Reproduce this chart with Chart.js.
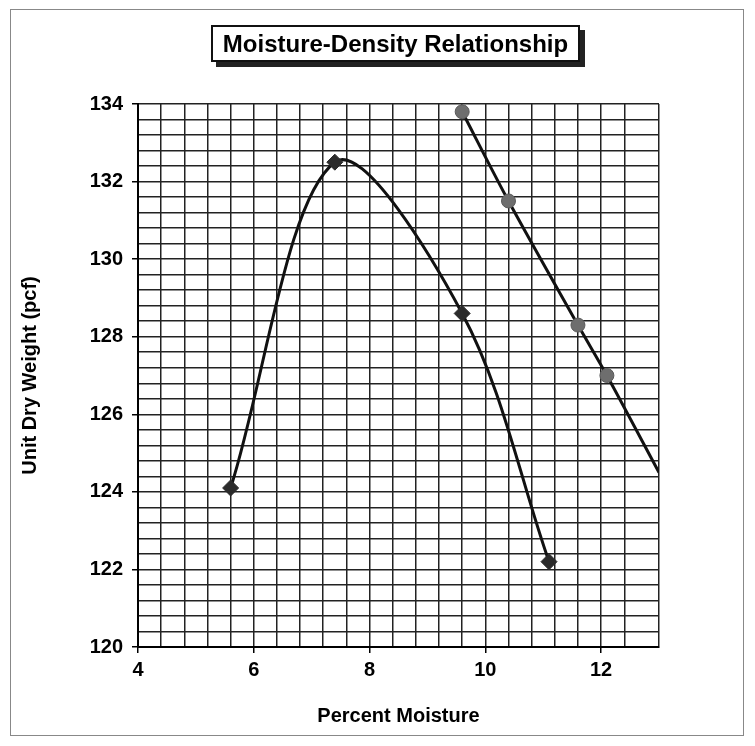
<!DOCTYPE html>
<html>
<head>
<meta charset="utf-8">
<script src="https://cdn.jsdelivr.net/npm/chart.js@4"></script>
<style>
  html, body { margin: 0; padding: 0; background: #fff; }
  #wrap { position: relative; width: 755px; height: 746px; }
  #frame { position: absolute; left: 10px; top: 9px; width: 734px; height: 727px; border: 1px solid #888; box-sizing: border-box; }
  #title {
    position: absolute; left: 211px; top: 25px; width: 369px; height: 37px;
    box-sizing: border-box; border: 2px solid #111; background: #fff;
    box-shadow: 5px 5px 0 #222;
    font: bold 24px "Liberation Sans", Arial, sans-serif; color: #000;
    text-align: center; line-height: 33px;
  }
  canvas { position: absolute; left: 0; top: 0; }
</style>
</head>
<body>
<div id="wrap">
  <div id="frame"></div>
  <canvas id="chart" width="755" height="746"></canvas>
  <div id="title">Moisture-Density Relationship</div>
</div>
<script>
// field test points (diamonds)
const moistureTest = [5.6, 7.4, 9.6, 11.1];
const densityTest = [124.1, 132.5, 128.6, 122.2];

// zero air voids points (circles); last one only carries the line to the edge
const moistureZav = [9.6, 10.4, 11.6, 12.1, 13.0];
const densityZav = [133.8, 131.5, 128.3, 127.0, 124.5];

const xMin = 4, xMax = 13;
const yMin = 120, yMax = 134;
const gridStep = 0.4;

function toPoints(xs, ys) {
    return xs.map((x, i) => ({ x: x, y: ys[i] }));
}

function isMajor(v) {
    const r = Math.round(v);
    return Math.abs(v - r) < 1e-6 && r % 2 === 0;
}

const font = { family: '"Liberation Sans", Arial, sans-serif' };

new Chart(document.getElementById('chart').getContext('2d'), {
    type: 'scatter',
    data: {
        datasets: [
            {
                label: 'Test',
                data: toPoints(moistureTest, densityTest),
                showLine: true,
                tension: 0.33,
                borderColor: '#111',
                borderWidth: 3,
                pointStyle: 'rectRot',
                pointRadius: 8,
                pointBackgroundColor: '#2b2b2b',
                pointBorderColor: '#2b2b2b',
                pointBorderWidth: 1
            },
            {
                label: 'ZAV',
                data: toPoints(moistureZav, densityZav),
                showLine: true,
                tension: 0.3,
                borderColor: '#111',
                borderWidth: 3,
                pointStyle: 'circle',
                pointRadius: moistureZav.map((x, i) => i === moistureZav.length - 1 ? 0 : 7),
                pointBackgroundColor: '#6e6e6e',
                pointBorderColor: '#5a5a5a',
                pointBorderWidth: 1
            }
        ]
    },
    options: {
        responsive: false,
        animation: false,
        layout: { padding: { left: 12, right: 96, top: 104, bottom: 15 } },
        plugins: {
            legend: { display: false },
            tooltip: { enabled: false }
        },
        scales: {
            x: {
                type: 'linear',
                min: xMin,
                max: xMax,
                afterFit: s => { s.height = 84; },
                border: { display: true, color: '#000', width: 2 },
                grid: {
                    color: '#222',
                    lineWidth: 1.5,
                    tickLength: 6,
                    tickColor: c => isMajor(c.tick.value) ? '#000' : 'rgba(0,0,0,0)'
                },
                ticks: {
                    stepSize: gridStep,
                    autoSkip: false,
                    maxRotation: 0,
                    padding: 5,
                    color: '#000',
                    font: { ...font, size: 20, weight: 'bold' },
                    callback: v => isMajor(v) ? String(Math.round(v)) : ''
                },
                title: {
                    display: true,
                    text: 'Percent Moisture',
                    color: '#000',
                    font: { ...font, size: 20, weight: 'bold' },
                    padding: { top: 4, bottom: 3 }
                }
            },
            y: {
                type: 'linear',
                min: yMin,
                max: yMax,
                afterFit: s => { s.width = 126; },
                border: { display: true, color: '#000', width: 2 },
                grid: {
                    color: '#222',
                    lineWidth: 1.5,
                    tickLength: 6,
                    tickColor: c => isMajor(c.tick.value) ? '#000' : 'rgba(0,0,0,0)'
                },
                ticks: {
                    stepSize: gridStep,
                    autoSkip: false,
                    padding: 9,
                    color: '#000',
                    font: { ...font, size: 20, weight: 'bold' },
                    callback: v => isMajor(v) ? String(Math.round(v)) : ''
                },
                title: {
                    display: true,
                    text: 'Unit Dry Weight (pcf)',
                    color: '#000',
                    font: { ...font, size: 20, weight: 'bold' },
                    padding: { top: 6, bottom: 4 }
                }
            }
        }
    }
});
</script>
</body>
</html>
